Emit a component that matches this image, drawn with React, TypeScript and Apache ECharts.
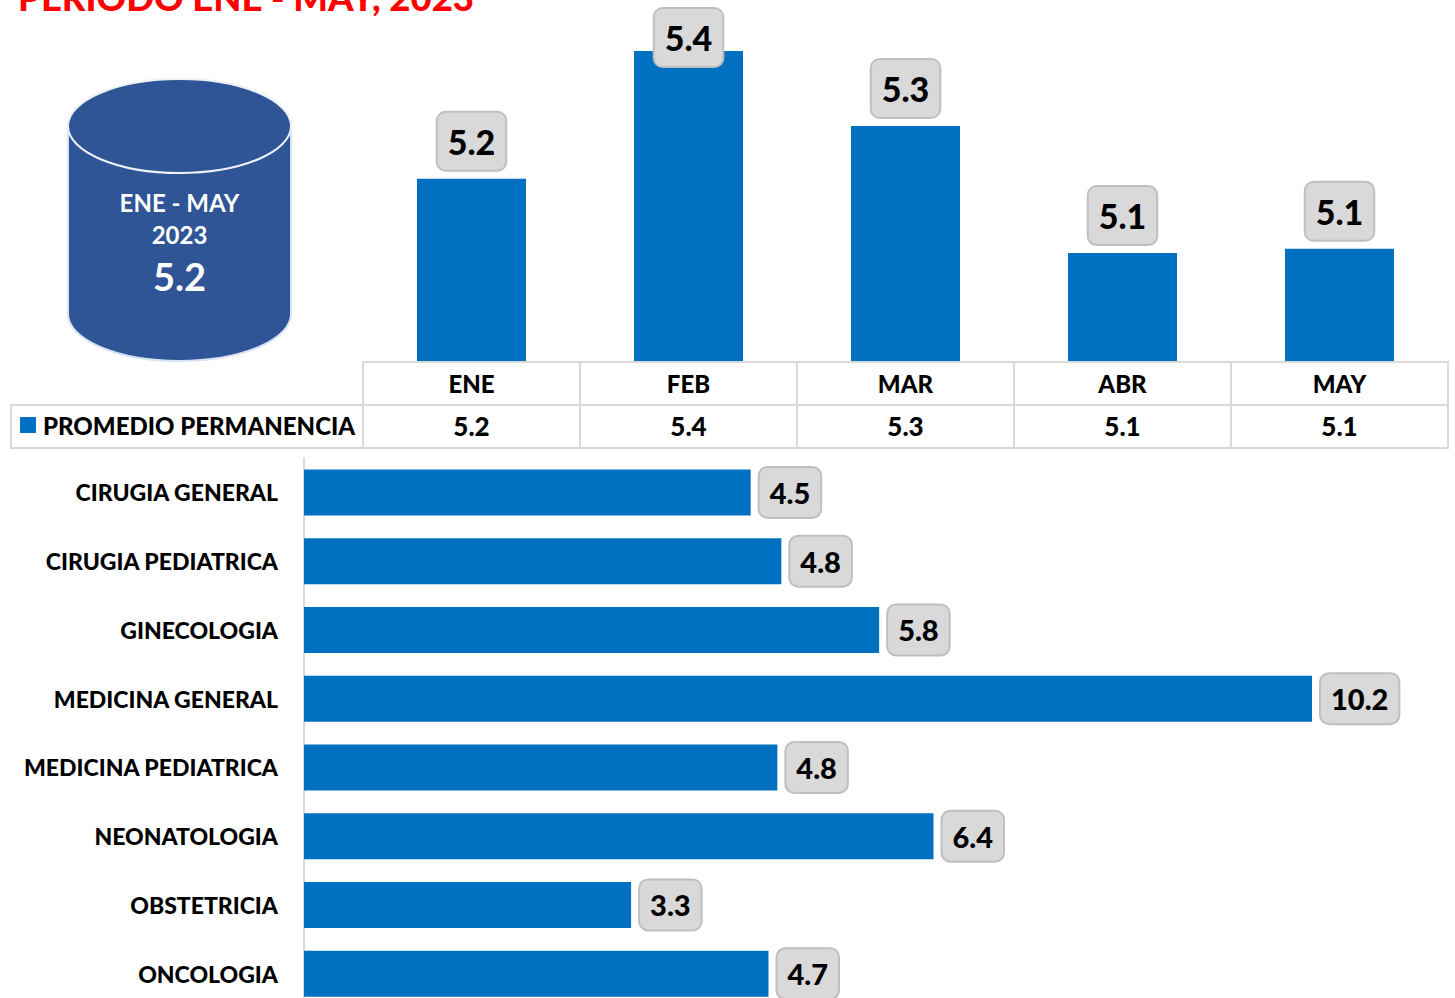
import React, { useEffect, useRef } from "react";
import * as echarts from "echarts";

const TITLE = "PERIODO ENE - MAY, 2023";
const SERIES_NAME = "PROMEDIO PERMANENCIA";
const months = ["ENE", "FEB", "MAR", "ABR", "MAY"];
const monthValues = [5.194, 5.4, 5.279, 5.074, 5.081];
const services = [
  "CIRUGIA GENERAL",
  "CIRUGIA PEDIATRICA",
  "GINECOLOGIA",
  "MEDICINA GENERAL",
  "MEDICINA PEDIATRICA",
  "NEONATOLOGIA",
  "OBSTETRICIA",
  "ONCOLOGIA",
];
const serviceValues = [4.52, 4.83, 5.82, 10.2, 4.79, 6.37, 3.31, 4.7];
const canLines = ["ENE - MAY", "2023"];
const canValue = "5.2";

const FONT = "Lato";
const WEIGHT = 900;
const BLUE = "#0070c0";
const GRID = "#d9d9d9";
const CAN = "#2f5597";

const fmt = (v: number) => v.toFixed(1);

echarts.graphic.registerShape(
  "canBody",
  echarts.graphic.extendPath("M68 126 L68 314 A111.5 47 0 0 0 291 314 L291 126 A111.5 47 0 0 0 68 126 Z", {})
);

export default function App() {
  const ref = useRef<HTMLDivElement>(null);
  useEffect(() => {
    document.body.style.margin = "0";
    const chart = echarts.init(ref.current!, null, { renderer: "svg" });
    const cellX = [363, 580, 797, 1014, 1231, 1448];
    const line = (x1: number, y1: number, x2: number, y2: number) => ({
      type: "line",
      shape: { x1, y1, x2, y2 },
      style: { stroke: GRID, lineWidth: 2 },
      silent: true,
    });
    const whiteText = (text: string, y: number, size: number) => ({
      type: "text",
      x: 179.5,
      y,
      style: {
        text,
        fill: "#ffffff",
        font: `bold ${size}px ${FONT}`,
        textAlign: "center",
        textVerticalAlign: "middle",
      },
    });
    chart.setOption({
      animation: false,
      backgroundColor: "#ffffff",
      textStyle: { fontFamily: FONT },
      title: {
        text: TITLE,
        left: 13,
        top: -27,
        textStyle: { color: "#ff0000", fontSize: 36.5, fontWeight: WEIGHT, fontFamily: FONT },
      },
      legend: {
        data: [SERIES_NAME],
        left: 15,
        top: 408,
        icon: "rect",
        itemWidth: 16,
        itemHeight: 16,
        selectedMode: false,
        textStyle: { fontSize: 24, fontWeight: WEIGHT, color: "#000", fontFamily: FONT, padding: [0, 0, 0, 2] },
      },
      grid: [
        { left: 363, top: 51, width: 1085, height: 310 },
        { left: 304, top: 458, width: 1008, height: 550 },
      ],
      xAxis: [
        {
          type: "category",
          gridIndex: 0,
          data: months,
          position: "bottom",
          axisLine: { show: false },
          axisTick: { show: false },
          axisLabel: { fontSize: 24, fontWeight: WEIGHT, color: "#000", margin: 10, fontFamily: FONT },
        },
        {
          type: "category",
          gridIndex: 0,
          data: monthValues.map(fmt),
          position: "bottom",
          offset: 43,
          axisLine: { show: false },
          axisTick: { show: false },
          axisLabel: { fontSize: 26, fontWeight: WEIGHT, color: "#000", margin: 9, fontFamily: FONT, interval: 0 },
        },
        { type: "value", gridIndex: 1, min: 0, max: 10.2, show: false },
      ],
      yAxis: [
        { type: "value", gridIndex: 0, min: 4.9, max: 5.4, show: false },
        {
          type: "category",
          gridIndex: 1,
          data: services,
          inverse: true,
          axisLine: { show: true, lineStyle: { color: GRID, width: 2 } },
          axisTick: { show: false },
          axisLabel: { fontSize: 23, fontWeight: WEIGHT, color: "#000", margin: 26, fontFamily: FONT, interval: 0 },
        },
      ],
      series: [
        {
          name: SERIES_NAME,
          type: "bar",
          xAxisIndex: 0,
          yAxisIndex: 0,
          barWidth: 109,
          itemStyle: { color: BLUE },
          data: monthValues.map((v, i) => ({
            value: v,
            label: i === 1 ? { offset: [0, 24] } : undefined,
          })),
          label: {
            show: true,
            position: "top",
            distance: 9,
            formatter: (p: any) => fmt(p.value),
            fontSize: 34,
            fontWeight: WEIGHT,
            fontFamily: FONT,
            color: "#000",
            backgroundColor: GRID,
            borderColor: "#bfbfbf",
            borderWidth: 2,
            borderRadius: 8,
            padding: [11.5, 10, 11.5, 10],
          },
        },
        {
          name: "Servicios",
          type: "bar",
          xAxisIndex: 2,
          yAxisIndex: 1,
          barWidth: 46,
          itemStyle: { color: BLUE },
          data: serviceValues,
          label: {
            show: true,
            position: "right",
            distance: 9,
            formatter: (p: any) => fmt(p.value),
            fontSize: 29,
            fontWeight: WEIGHT,
            fontFamily: FONT,
            color: "#000",
            backgroundColor: GRID,
            borderColor: "#bfbfbf",
            borderWidth: 2,
            borderRadius: 8,
            padding: [10, 10, 10, 10],
          },
        },
      ],
      graphic: [
        line(363, 362, 1449, 362),
        line(11, 405, 1449, 405),
        line(11, 448, 1449, 448),
        line(11, 404, 11, 449),
        ...cellX.map((x) => line(x, 361, x, 449)),
        {
          type: "canBody",
          x: 0,
          y: 0,
          style: { fill: CAN, stroke: "#dae3f3", lineWidth: 2 },
        },
        {
          type: "ellipse",
          shape: { cx: 179.5, cy: 126, rx: 111.5, ry: 47 },
          style: { fill: CAN, stroke: "#eef2f9", lineWidth: 2 },
        },
        whiteText(canLines[0], 202, 24),
        whiteText(canLines[1], 234, 24),
        whiteText(canValue, 276, 38),
      ],
    });
    return () => chart.dispose();
  }, []);
  return (
    <div style={{ width: 1455, height: 998, overflow: "hidden" }}>
      <div ref={ref} style={{ width: 1455, height: 1020 }} />
    </div>
  );
}
